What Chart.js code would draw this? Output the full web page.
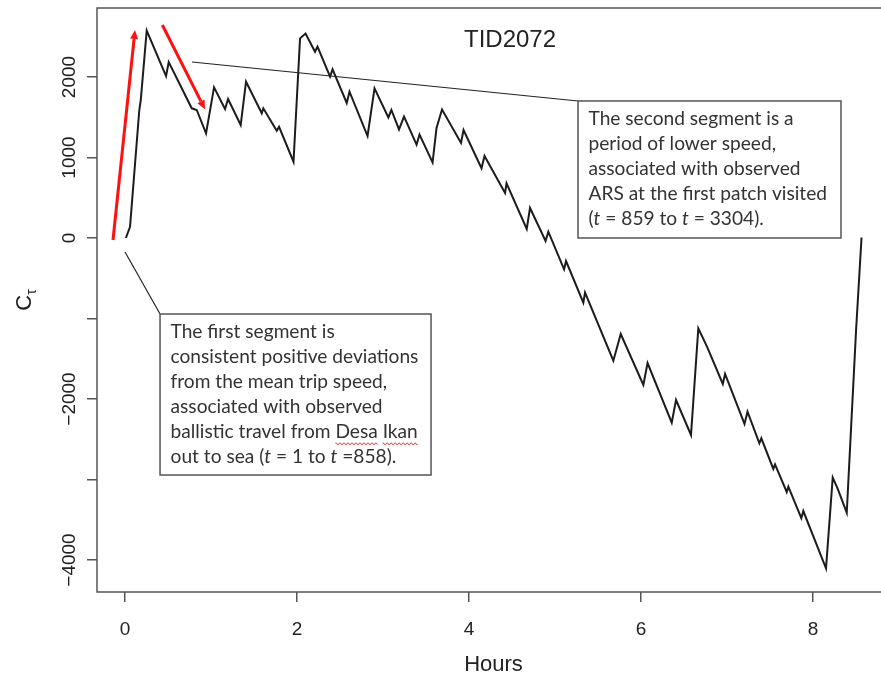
<!DOCTYPE html>
<html lang="en">
<head>
<meta charset="UTF-8">
<title>TID2072</title>
<script src="https://cdn.jsdelivr.net/npm/chart.js@4"></script>
<style>
  html, body { margin: 0; padding: 0; background: #fff; overflow: hidden; }
  canvas { display: block; }
</style>
</head>
<body>
<canvas id="chart" width="900" height="676"></canvas>
<script>
// C_tau curve
var hours = [0.01, 0.058, 0.166, 0.183, 0.252, 0.477, 0.508, 0.776, 0.834, 0.942,
  1.035, 1.163, 1.198, 1.345, 1.407, 1.590, 1.608, 1.764, 1.791, 1.959,
  2.035, 2.099, 2.209, 2.238, 2.384, 2.413, 2.578, 2.610, 2.820, 2.901,
  3.062, 3.097, 3.186, 3.244, 3.390, 3.424, 3.576, 3.622, 3.686, 3.907,
  3.936, 4.145, 4.180, 4.419, 4.436, 4.671, 4.709, 4.890, 4.922, 5.105,
  5.128, 5.329, 5.349, 5.678, 5.764, 6.027, 6.076, 6.357, 6.407, 6.581,
  6.666, 6.767, 6.951, 6.977, 7.203, 7.238, 7.376, 7.399, 7.538, 7.558,
  7.694, 7.713, 7.864, 7.887, 8.151, 8.229, 8.285, 8.392, 8.500, 8.564];
var ctau = [0, 140, 1590, 1714, 2575, 2012, 2186, 1611, 1590, 1300,
  1872, 1602, 1726, 1403, 1941, 1549, 1611, 1333, 1382, 948,
  2480, 2540, 2314, 2376, 2003, 2095, 1677, 1817, 1267, 1859,
  1497, 1590, 1348, 1507, 1161, 1285, 938, 1366, 1596, 1180,
  1341, 866, 1018, 559, 679, 112, 373, -37, 78, -389,
  -286, -804, -679, -1524, -1192, -1826, -1553, -2294, -2012, -2447,
  -1122, -1350, -1813, -1689, -2310, -2157, -2550, -2488, -2869, -2813,
  -3155, -3089, -3481, -3391, -4102, -2975, -3109, -3412, -1155, 6];

var xTicks = [0, 2, 4, 6, 8];
var xTickLabels = ['0', '2', '4', '6', '8'];
var yTicks = [-4000, -3000, -2000, -1000, 0, 1000, 2000];
var yTickLabels = ['\u22124000', '', '\u22122000', '', '0', '1000', '2000'];

// annotations, in data units (hours, C)
var arrowUp = [[-0.14, -25], [0.116, 2584]];
var arrowDown = [[0.434, 2646], [0.930, 1598]];
var pointer1 = [[0.0, -174], [0.407, -944]];
var pointer2 = [[0.779, 2186], [5.267, 1702]];

// text boxes: [text, style] where style i = italic, w = spelling underline
var box1Lines = [
  [['The first segment is', '']],
  [['consistent positive deviations', '']],
  [['from the mean trip speed,', '']],
  [['associated with observed', '']],
  [['ballistic travel from ', ''], ['Desa', 'w'], [' ', ''], ['Ikan', 'w']],
  [['out to sea (', ''], ['t', 'i'], [' = 1 to ', ''], ['t', 'i'], [' =858).', '']]
];
var box2Lines = [
  [['The second segment is a', '']],
  [['period of lower speed,', '']],
  [['associated with observed', '']],
  [['ARS at the first patch visited', '']],
  [['(', ''], ['t', 'i'], [' = 859 to ', ''], ['t', 'i'], [' = 3304).', '']]
];

var sansR = "'Liberation Sans', Arial, sans-serif";
var boxFont = "Lato, 'Open Sans', sans-serif";

function segFont(style, size) {
  return (style === 'i' ? 'italic ' : '') + size + 'px ' + boxFont;
}

function lineWidth(ctx, line, size) {
  var w = 0;
  line.forEach(function (s) { ctx.font = segFont(s[1], size); w += ctx.measureText(s[0]).width; });
  return w;
}

function drawBox(ctx, corner, w, h, lines, size) {
  ctx.fillStyle = '#fff';
  ctx.fillRect(corner[0], corner[1], w, h);
  ctx.strokeStyle = '#555';
  ctx.lineWidth = 1.5;
  ctx.strokeRect(corner[0], corner[1], w, h);
  ctx.textBaseline = 'middle';
  ctx.textAlign = 'left';
  lines.forEach(function (line, i) {
    var tx = corner[0] + 10.5;
    var ty = corner[1] + 18 + i * 24.9;
    line.forEach(function (s) {
      ctx.font = segFont(s[1], size);
      ctx.fillStyle = '#333';
      ctx.fillText(s[0], tx, ty);
      var sw = ctx.measureText(s[0]).width;
      if (s[1] === 'w') {
        ctx.strokeStyle = '#e0302a';
        ctx.lineWidth = 1;
        ctx.beginPath();
        for (var k = 0; k <= sw; k += 1) {
          var wy = ty + size * 0.6 + (Math.floor(k / 2) % 2 === 0 ? 0 : 1.5);
          if (k === 0) ctx.moveTo(tx + k, wy); else ctx.lineTo(tx + k, wy);
        }
        ctx.stroke();
      }
      tx += sw;
    });
  });
}

function drawArrow(ctx, p0, p1) {
  var ang = Math.atan2(p1[1] - p0[1], p1[0] - p0[0]);
  var len = 9, half = 4;
  var bx = p1[0] - len * Math.cos(ang), by = p1[1] - len * Math.sin(ang);
  ctx.strokeStyle = '#ff1010';
  ctx.fillStyle = '#ff1010';
  ctx.lineWidth = 3;
  ctx.beginPath();
  ctx.moveTo(p0[0], p0[1]);
  ctx.lineTo(bx, by);
  ctx.stroke();
  ctx.beginPath();
  ctx.moveTo(p1[0], p1[1]);
  ctx.lineTo(bx + half * Math.sin(ang), by - half * Math.cos(ang));
  ctx.lineTo(bx - half * Math.sin(ang), by + half * Math.cos(ang));
  ctx.closePath();
  ctx.fill();
}

var overlay = {
  id: 'overlay',
  afterDatasetsDraw: function (chart) {
    var ctx = chart.ctx, a = chart.chartArea;
    var xs = chart.scales.x, ys = chart.scales.y;
    var px = function (p) { return [xs.getPixelForValue(p[0]), ys.getPixelForValue(p[1])]; };
    ctx.save();

    // frame
    ctx.strokeStyle = '#555';
    ctx.lineWidth = 1.5;
    ctx.strokeRect(a.left, a.top, a.right - a.left, a.bottom - a.top);

    // pointer lines
    ctx.strokeStyle = '#222';
    ctx.lineWidth = 1.2;
    [pointer1, pointer2].forEach(function (seg) {
      var p0 = px(seg[0]), p1 = px(seg[1]);
      ctx.beginPath();
      ctx.moveTo(p0[0], p0[1]);
      ctx.lineTo(p1[0], p1[1]);
      ctx.stroke();
    });

    // red arrows
    drawArrow(ctx, px(arrowUp[0]), px(arrowUp[1]));
    drawArrow(ctx, px(arrowDown[0]), px(arrowDown[1]));

    // text boxes, font sized so the widest line fits its box
    var widest = Math.max.apply(null, box1Lines.map(function (l) { return lineWidth(ctx, l, 100); }));
    var size = 100 * 248 / widest;
    drawBox(ctx, px(pointer1[1]), 271, 161, box1Lines, size);
    drawBox(ctx, px(pointer2[1]), 263, 137, box2Lines, size);

    // title
    ctx.fillStyle = '#222';
    ctx.font = '24px ' + sansR;
    ctx.textAlign = 'center';
    ctx.textBaseline = 'middle';
    ctx.fillText('TID2072', 510, 40);

    // y axis title C with subscript tau
    ctx.translate(25, 300);
    ctx.rotate(-Math.PI / 2);
    ctx.font = '22px ' + sansR;
    var wc = ctx.measureText('C').width;
    ctx.font = '14px ' + sansR;
    var wt = ctx.measureText('\u03c4').width;
    var sx = -(wc + wt) / 2;
    ctx.textAlign = 'left';
    ctx.font = '22px ' + sansR;
    ctx.fillText('C', sx, 0);
    ctx.font = '14px ' + sansR;
    ctx.fillText('\u03c4', sx + wc, 7);

    ctx.restore();
  }
};

Chart.defaults.font.family = sansR;
Chart.defaults.color = '#222';

var ctx = document.getElementById('chart').getContext('2d');
var chart = new Chart(ctx, {
  type: 'scatter',
  data: {
    datasets: [{
      label: 'TID2072',
      data: hours.map(function (h, i) { return { x: h, y: ctau[i] }; }),
      showLine: true,
      borderColor: '#1c1c1c',
      borderWidth: 2,
      pointRadius: 0,
      tension: 0
    }]
  },
  options: {
    responsive: false,
    animation: false,
    devicePixelRatio: 1,
    layout: { padding: { top: 8, right: 10, left: 0, bottom: 0 } },
    plugins: { legend: { display: false }, tooltip: { enabled: false } },
    scales: {
      x: {
        type: 'linear',
        min: -0.326,
        max: 8.895,
        afterBuildTicks: function (s) { s.ticks = xTicks.map(function (v) { return { value: v }; }); },
        afterFit: function (s) { s.height = 84; s.paddingLeft = 0; s.paddingRight = 0; },
        ticks: {
          autoSkip: false,
          maxRotation: 0,
          padding: 16,
          font: { size: 19 },
          color: '#222',
          callback: function (v, i) { return xTickLabels[i]; }
        },
        grid: { drawOnChartArea: false, tickLength: 10, color: '#555', lineWidth: 1.5 },
        border: { display: false },
        title: { display: true, text: 'Hours', font: { size: 22, lineHeight: 1 }, padding: 0, color: '#222' }
      },
      y: {
        type: 'linear',
        min: -4397,
        max: 2857,
        afterBuildTicks: function (s) { s.ticks = yTicks.map(function (v) { return { value: v }; }); },
        afterFit: function (s) { s.width = 97; s.paddingTop = 0; s.paddingBottom = 0; },
        ticks: {
          autoSkip: false,
          minRotation: 90,
          maxRotation: 90,
          crossAlign: 'center',
          padding: -9,
          font: { size: 19 },
          color: '#222',
          callback: function (v, i) { return yTickLabels[i]; }
        },
        grid: { drawOnChartArea: false, tickLength: 10, color: '#555', lineWidth: 1.5 },
        border: { display: false }
      }
    }
  },
  plugins: [overlay]
});
</script>
</body>
</html>
